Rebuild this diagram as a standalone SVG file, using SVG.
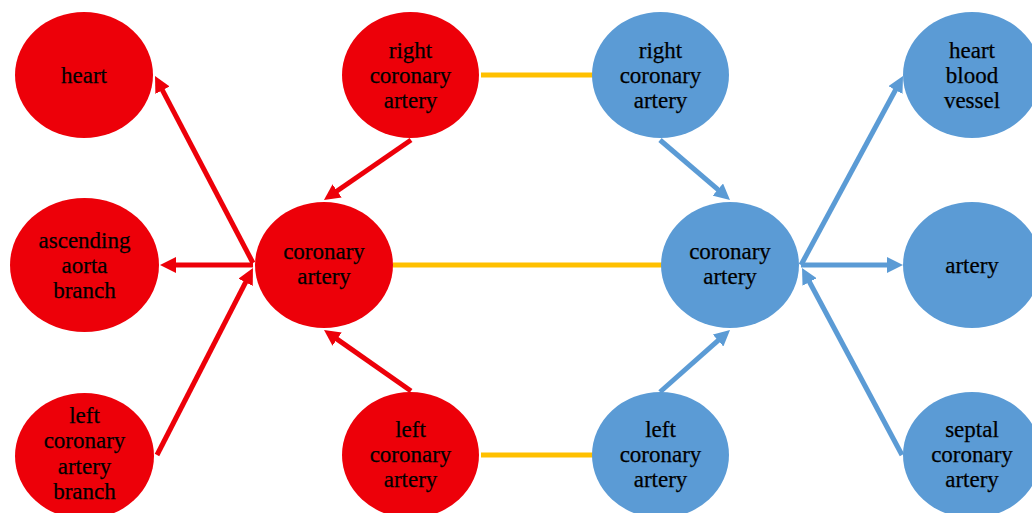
<svg xmlns="http://www.w3.org/2000/svg" width="1032" height="513" viewBox="0 0 1032 513">
  <style>
    .red { fill: #ED0009; }
    .blue { fill: #5B9BD5; }
    .lbl { font-family: "Liberation Serif", "Times New Roman", serif; font-size: 23px; fill: #000; stroke: #000; stroke-width: 0.25; text-anchor: middle; }
    .ar-red { stroke: #ED0009; stroke-width: 5; fill: none; marker-end: url(#headRed); }
    .ar-blue { stroke: #5B9BD5; stroke-width: 5; fill: none; marker-end: url(#headBlue); }
    .link { stroke: #FFC000; stroke-width: 5; fill: none; }
  </style>
  <defs>
    <marker id="headRed" markerUnits="userSpaceOnUse" markerWidth="16" markerHeight="16" refX="1" refY="8" orient="auto">
      <path d="M0,0 L16,8 L0,16 z" fill="#ED0009"/>
    </marker>
    <marker id="headBlue" markerUnits="userSpaceOnUse" markerWidth="16" markerHeight="16" refX="1" refY="8" orient="auto">
      <path d="M0,0 L16,8 L0,16 z" fill="#5B9BD5"/>
    </marker>
  </defs>
  <rect width="1032" height="513" fill="#fff"/>

  <!-- connectors -->
  <g id="connectors">
    <line class="link" x1="481" y1="75" x2="593" y2="75"/>
    <line class="link" x1="393" y1="265" x2="662" y2="265"/>
    <line class="link" x1="481" y1="455" x2="593" y2="455"/>

    <line class="ar-red" x1="253" y1="263" x2="162" y2="89.3"/>
    <line class="ar-red" x1="253" y1="265" x2="175" y2="265"/>
    <line class="ar-red" x1="157" y1="455" x2="246.1" y2="281.4"/>
    <line class="ar-red" x1="411" y1="140" x2="336.3" y2="191.5"/>
    <line class="ar-red" x1="411" y1="391" x2="336.3" y2="338.6"/>

    <line class="ar-blue" x1="660" y1="140" x2="718.6" y2="190.2"/>
    <line class="ar-blue" x1="660" y1="392" x2="718.8" y2="339.9"/>
    <line class="ar-blue" x1="801" y1="265" x2="895.9" y2="89.2"/>
    <line class="ar-blue" x1="801" y1="265" x2="888" y2="265"/>
    <line class="ar-blue" x1="902" y1="455" x2="809.1" y2="281.2"/>
  </g>

  <!-- red side -->
  <g id="heart">
    <ellipse class="red" cx="84" cy="75" rx="69" ry="63"/>
    <text class="lbl" x="84" y="83">heart</text>
  </g>
  <g id="ascending-aorta-branch">
    <ellipse class="red" cx="84.5" cy="265" rx="74.5" ry="67"/>
    <text class="lbl" x="84.5" y="248">ascending</text>
    <text class="lbl" x="84.5" y="273">aorta</text>
    <text class="lbl" x="84.5" y="298">branch</text>
  </g>
  <g id="left-coronary-artery-branch">
    <ellipse class="red" cx="84.5" cy="456" rx="69.5" ry="63"/>
    <text class="lbl" x="84.5" y="423">left</text>
    <text class="lbl" x="84.5" y="448">coronary</text>
    <text class="lbl" x="84.5" y="474">artery</text>
    <text class="lbl" x="84.5" y="499">branch</text>
  </g>
  <g id="coronary-artery-red">
    <ellipse class="red" cx="324" cy="265" rx="69" ry="63"/>
    <text class="lbl" x="324" y="259">coronary</text>
    <text class="lbl" x="324" y="284">artery</text>
  </g>
  <g id="right-coronary-artery-red">
    <ellipse class="red" cx="410.5" cy="75" rx="68.5" ry="63"/>
    <text class="lbl" x="410.5" y="58">right</text>
    <text class="lbl" x="410.5" y="83">coronary</text>
    <text class="lbl" x="410.5" y="108">artery</text>
  </g>
  <g id="left-coronary-artery-red">
    <ellipse class="red" cx="410.5" cy="455" rx="68.5" ry="63"/>
    <text class="lbl" x="410.5" y="437">left</text>
    <text class="lbl" x="410.5" y="462">coronary</text>
    <text class="lbl" x="410.5" y="487">artery</text>
  </g>

  <!-- blue side -->
  <g id="right-coronary-artery-blue">
    <ellipse class="blue" cx="660.5" cy="75" rx="68.5" ry="63"/>
    <text class="lbl" x="660.5" y="58">right</text>
    <text class="lbl" x="660.5" y="83">coronary</text>
    <text class="lbl" x="660.5" y="108">artery</text>
  </g>
  <g id="coronary-artery-blue">
    <ellipse class="blue" cx="730" cy="265" rx="69" ry="63"/>
    <text class="lbl" x="730" y="259">coronary</text>
    <text class="lbl" x="730" y="284">artery</text>
  </g>
  <g id="left-coronary-artery-blue">
    <ellipse class="blue" cx="660.5" cy="455" rx="68.5" ry="63"/>
    <text class="lbl" x="660.5" y="437">left</text>
    <text class="lbl" x="660.5" y="462">coronary</text>
    <text class="lbl" x="660.5" y="487">artery</text>
  </g>
  <g id="heart-blood-vessel">
    <ellipse class="blue" cx="972" cy="75" rx="69" ry="63"/>
    <text class="lbl" x="972" y="58">heart</text>
    <text class="lbl" x="972" y="83">blood</text>
    <text class="lbl" x="972" y="108">vessel</text>
  </g>
  <g id="artery">
    <ellipse class="blue" cx="972" cy="265" rx="69" ry="63"/>
    <text class="lbl" x="972" y="273">artery</text>
  </g>
  <g id="septal-coronary-artery">
    <ellipse class="blue" cx="972" cy="455" rx="69" ry="63"/>
    <text class="lbl" x="972" y="437">septal</text>
    <text class="lbl" x="972" y="462">coronary</text>
    <text class="lbl" x="972" y="487">artery</text>
  </g>
</svg>
